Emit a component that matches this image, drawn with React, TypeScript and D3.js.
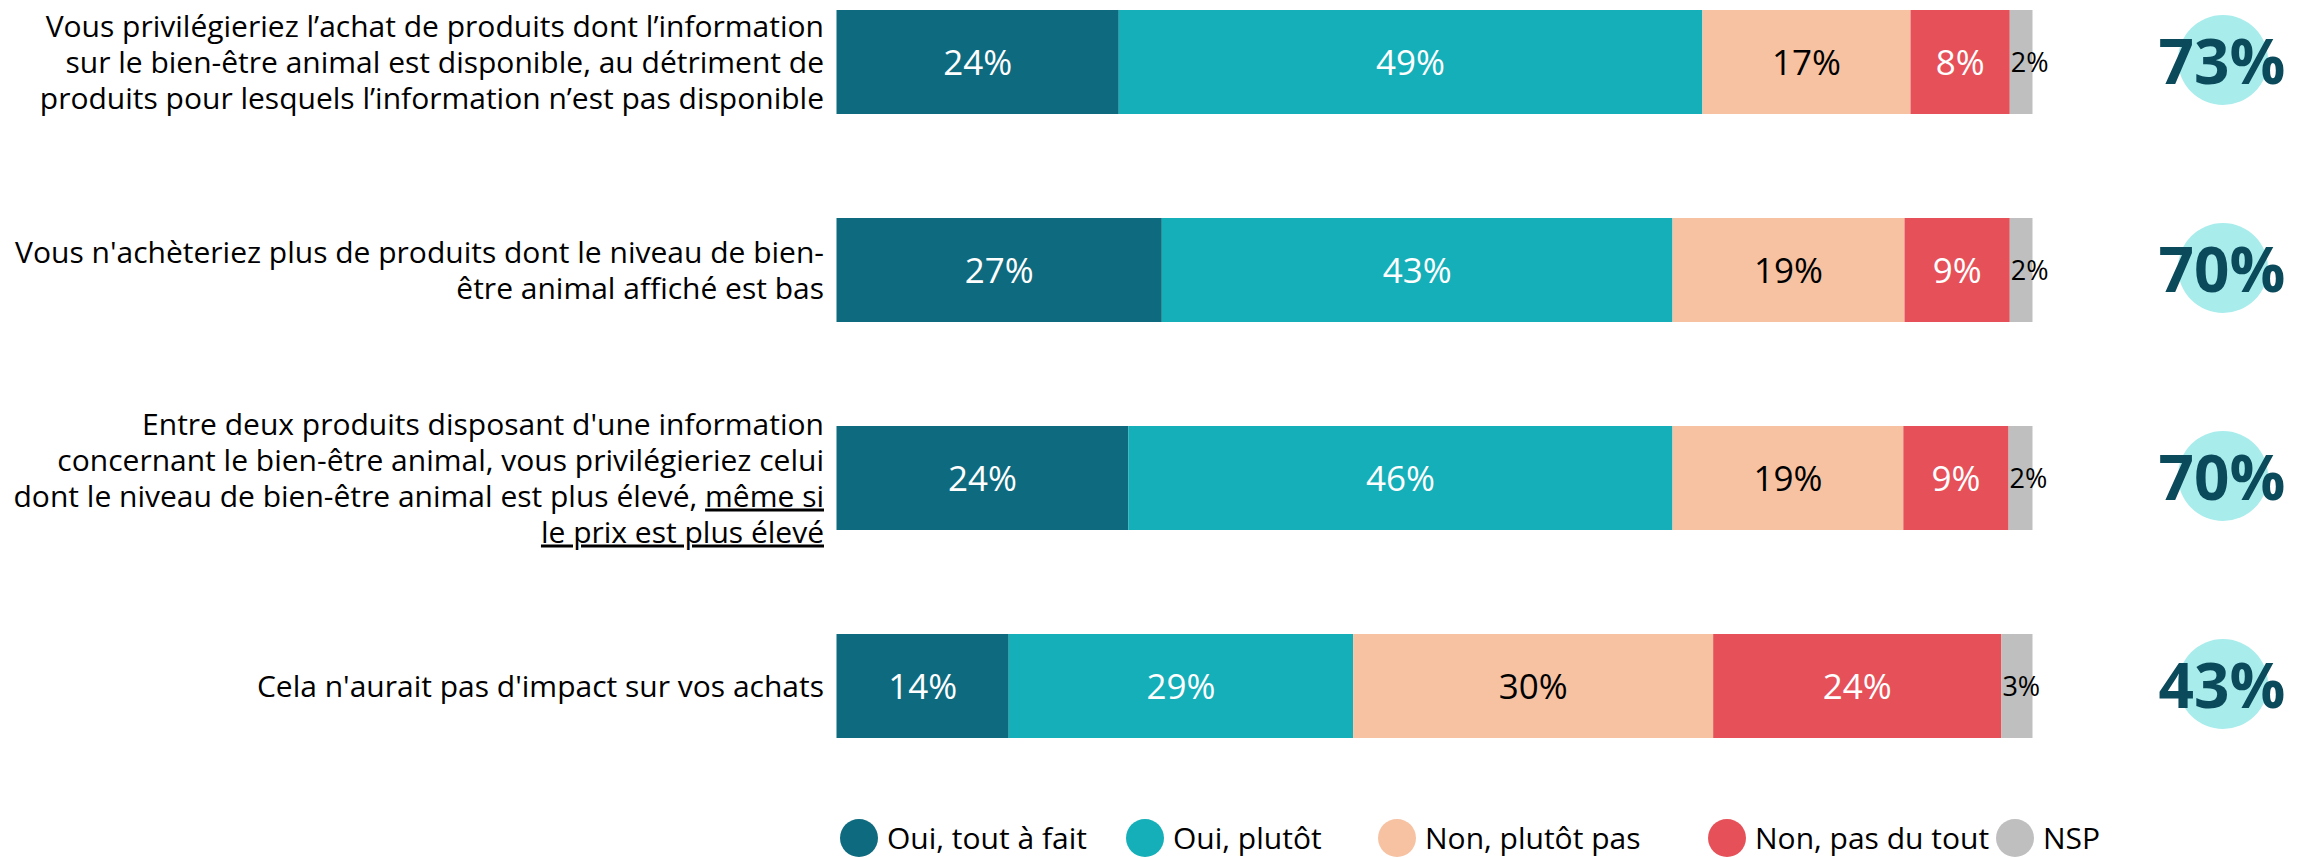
import React from "react";
import * as d3 from "d3";

// categories (each question, already split into lines; u = underlined part)
const questions = [
  [
    [{ t: "Vous privilégieriez l’achat de produits dont l’information" }],
    [{ t: "sur le bien-être animal est disponible, au détriment de" }],
    [{ t: "produits pour lesquels l’information n’est pas disponible" }],
  ],
  [
    [{ t: "Vous n'achèteriez plus de produits dont le niveau de bien-" }],
    [{ t: "être animal affiché est bas" }],
  ],
  [
    [{ t: "Entre deux produits disposant d'une information" }],
    [{ t: "concernant le bien-être animal, vous privilégieriez celui" }],
    [{ t: "dont le niveau de bien-être animal est plus élevé, " }, { t: "même si", u: true }],
    [{ t: "le prix est plus élevé", u: true }],
  ],
  [[{ t: "Cela n'aurait pas d'impact sur vos achats" }]],
];

const seriesNames = ["Oui, tout à fait", "Oui, plutôt", "Non, plutôt pas", "Non, pas du tout", "NSP"];
const seriesColors = ["#0E6A7E", "#14AFB8", "#F6C2A2", "#E65159", "#BFBFBF"];
const labelColors = ["#ffffff", "#ffffff", "#000000", "#ffffff", "#000000"];

const toutAFait = [23.6, 27.2, 24.4, 14.4];
const plutot = [48.8, 42.7, 45.5, 28.8];
const plutotPas = [17.4, 19.4, 19.3, 30.1];
const pasDuTout = [8.3, 8.8, 8.8, 24.1];
const nsp = [1.9, 1.9, 2.0, 2.6];

const shownLabels = [
  ["24%", "49%", "17%", "8%", "2%"],
  ["27%", "43%", "19%", "9%", "2%"],
  ["24%", "46%", "19%", "9%", "2%"],
  ["14%", "29%", "30%", "24%", "3%"],
];
const totalOui = ["73%", "70%", "70%", "43%"];

// legend layout (item start x)
const legendX = [840, 1126, 1378, 1708, 1996];

const W = 2301;
const H = 858;
const FONT = "'Segoe UI', 'Open Sans', sans-serif";

export default function App() {
  const series = [toutAFait, plutot, plutotPas, pasDuTout, nsp];
  const rows = questions.map((q, i) => {
    const o: any = { id: i };
    series.forEach((s, k) => (o["s" + k] = s[i]));
    return o;
  });
  const keys = series.map((_, k) => "s" + k);
  const stacked = d3.stack().keys(keys)(rows);

  const x = d3.scaleLinear().domain([0, 100]).range([836.5, 2032.5]);
  const y = d3
    .scaleBand<number>()
    .domain(questions.map((_, i) => i))
    .range([10, 738])
    .paddingInner(0.5)
    .paddingOuter(0);
  const bw = y.bandwidth();
  const lineH = 36;

  return (
    <svg
      width={W}
      height={H}
      style={{ position: "absolute", left: 0, top: 0, background: "#fff" }}
      fontFamily={FONT}
    >
      {/* question labels */}
      {questions.map((lines, i) => {
        const cy = y(i)! + bw / 2;
        const first = cy - ((lines.length - 1) * lineH) / 2;
        return (
          <text key={"q" + i} textAnchor="end" fontSize={30} fill="#000">
            {lines.map((parts, j) => (
              <tspan key={j} x={824} y={first + j * lineH} dy="0.35em">
                {parts.map((p: any, k) => (
                  <tspan key={k} textDecoration={p.u ? "underline" : undefined}>
                    {p.t}
                  </tspan>
                ))}
              </tspan>
            ))}
          </text>
        );
      })}

      {/* stacked bars */}
      {stacked.map((layer, k) => (
        <g key={"l" + k} fill={seriesColors[k]}>
          {layer.map((d, i) => (
            <rect
              key={i}
              x={x(d[0])}
              y={y(i)}
              width={x(d[1]) - x(d[0])}
              height={bw}
            />
          ))}
        </g>
      ))}

      {/* segment labels */}
      {stacked.map((layer, k) =>
        layer.map((d, i) => {
          const last = k === stacked.length - 1;
          return (
            <text
              key={"t" + k + "-" + i}
              x={last ? x(d[0]) + 1 : (x(d[0]) + x(d[1])) / 2}
              y={y(i)! + bw / 2}
              dy="0.36em"
              textAnchor={last ? "start" : "middle"}
              fontSize={last ? 27 : 35}
              fill={labelColors[k]}
            >
              {shownLabels[i][k]}
            </text>
          );
        })
      )}

      {/* total oui */}
      {totalOui.map((t, i) => {
        const cy = y(i)! + bw / 2;
        return (
          <g key={"tot" + i}>
            <circle cx={2223} cy={cy - 2} r={45} fill="#A8ECEC" />
            <text
              x={2222}
              y={cy}
              dy="0.36em"
              textAnchor="middle"
              fontSize={62}
              fontWeight={700}
              fill="#0B4A5B"
            >
              {t}
            </text>
          </g>
        );
      })}

      {/* legend */}
      {seriesNames.map((n, k) => (
        <g key={"lg" + k} transform={`translate(${legendX[k]},838)`}>
          <circle cx={19} cy={0} r={19} fill={seriesColors[k]} />
          <text x={47} y={0} dy="0.36em" fontSize={30} fill="#000">
            {n}
          </text>
        </g>
      ))}
    </svg>
  );
}
